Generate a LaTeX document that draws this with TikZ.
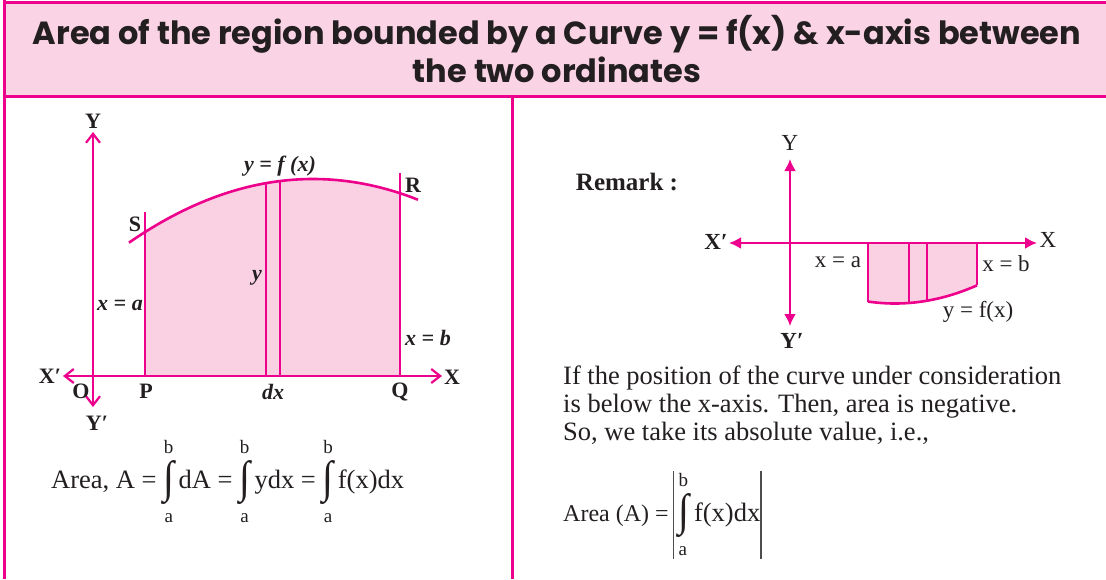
\documentclass[tikz,border=0pt]{standalone}
\usepackage{fontspec}
\setmainfont{Liberation Serif}
\newfontfamily\headfont{Poppins}
\usepackage{graphicx}
\usetikzlibrary{
  arrows.meta,
  positioning
}
\definecolor{rosered}{RGB}{236,0,140}
\definecolor{rosefill}{RGB}{249,209,227}
\definecolor{headfill}{RGB}{250,211,228}
\definecolor{inkblack}{RGB}{35,31,32}
\tikzset{
  frame/.style={draw=rosered,line width=3pt},
  axisL/.style={{Straight Barb[length=9pt,width=14pt]}-{Straight Barb[length=9pt,width=14pt]},
    draw=rosered,line width=2.2pt},
  axisR/.style={{Latex[length=12pt,width=12pt]}-{Latex[length=12pt,width=12pt]},
    draw=rosered,line width=2.2pt},
  curve/.style={draw=rosered,line width=2.6pt},
  ordinate/.style={draw=rosered,line width=1.8pt},
  lbl/.style={font=\fontsize{22}{22}\selectfont\bfseries,inner sep=0pt,text=inkblack},
  lblit/.style={font=\fontsize{22}{22}\selectfont\bfseries\itshape,inner sep=0pt,text=inkblack},
  rlbl/.style={font=\fontsize{23}{23}\selectfont,inner sep=0pt,text=inkblack},
  rlblbf/.style={font=\fontsize{23}{23}\selectfont\bfseries,inner sep=0pt,text=inkblack},
  headtext/.style={font=\headfont\bfseries\fontsize{32}{38}\selectfont,align=center,
    text=inkblack,inner sep=0pt},
  bodytext/.style={font=\fontsize{26.5}{28}\selectfont,align=left,text=inkblack,inner sep=0pt},
  formula/.style={font=\fontsize{26.5}{30}\selectfont,text=inkblack,inner sep=0pt}
}
\newcommand{\intab}[3][c]{\begin{tabular}{@{}#1@{}}%
  {\fontsize{19}{19}\selectfont #3}\\[8pt]%
  \raisebox{-1pt}[18pt][6pt]{\scalebox{1}[1.12]{\fontsize{40}{40}\selectfont ∫}}\\[1pt]%
  {\fontsize{19}{19}\selectfont #2}\end{tabular}}
\newcommand{\absbar}{\textcolor{inkblack!80}{\rule[-38pt]{1.2pt}{88pt}}}

\begin{document}
\begin{tikzpicture}[x=1pt,y=-1pt]
  \useasboundingbox (0,0) rectangle (1106,579);
  % header
  \fill[headfill] (4,2) rectangle (1106,96);
  \node[headtext] (title) at (557,49)
    {Area of the region bounded by a Curve y = f(x) \& x-axis between\\the two ordinates};
  \draw[frame] (4,2) -- (1106,2);
  \draw[frame] (4,0) -- (4,579);
  \draw[frame] (4,96) -- (1106,96);
  \draw[frame] (512,96) -- (512,579);

  % left: curve above the x-axis
  \fill[rosefill] plot[domain=145:400,samples=60] (\x,{179+18.8*((\x-313)/100)^2})
    -- (400,376) -- (145,376) -- cycle;
  \draw[curve] plot[domain=129:418,samples=80] (\x,{179+18.8*((\x-313)/100)^2});
  \draw[ordinate] (145,376) -- (145,212);
  \draw[ordinate] (400,376) -- (400,173);
  \draw[ordinate] (266,376) -- (266,183.2);
  \draw[ordinate] (280,376) -- (280,181.1);
  \draw[axisL] (63,376) -- (442,376);
  \draw[axisL] (93,407) -- (93,132);
  \node[lbl] (Yl) at (93,121) {Y};
  \node[lbl] (Ypl) at (97,423) {Y′};
  \node[lbl] (Xpl) at (50,376) {X′};
  \node[lbl] (Xl) at (452,377) {X};
  \node[lbl] (Ol) at (81,391) {O};
  \node[lbl] (Pl) at (146,391) {P};
  \node[lblit] (dxl) at (273,392) {dx};
  \node[lbl] (Ql) at (400,392) {Q};
  \node[lbl] (Rl) at (413,185) {R};
  \node[lbl] (Sl) at (135,224) {S};
  \node[lblit] (yl) at (257,278) {y};
  \node[lblit] (xal) at (120,305) {x = a};
  \node[lblit] (xbl) at (428,338) {x = b};
  \node[lblit] (fxl) at (280,166) {y = f (x)};
  \node[formula,anchor=west] (areaL) at (51,482)
    {Area, A = \intab{a}{b}\,dA = \intab{a}{b}\,ydx = \intab{a}{b}\,f(x)dx};

  % right: curve below the x-axis
  \node[rlblbf,font=\fontsize{25}{25}\selectfont\bfseries] (remark) at (627,182) {Remark :};
  \fill[rosefill] (868,243) -- plot[domain=868:977,samples=40] (\x,{303.5-27*((\x-895)/100)^2})
    -- (977,243) -- cycle;
  \draw[curve] plot[domain=868:977,samples=40] (\x,{303.5-27*((\x-895)/100)^2});
  \draw[ordinate] (868,243) -- (868,301.5);
  \draw[ordinate] (977,243) -- (977,285.3);
  \draw[ordinate] (909,243) -- (909,303);
  \draw[ordinate] (927,243) -- (927,300.7);
  \draw[axisR] (729,243) -- (1037,243);
  \draw[axisR] (790,326) -- (790,159);
  \node[rlbl] (Yr) at (790,143) {Y};
  \node[rlblbf] (Ypr) at (792,341) {Y′};
  \node[rlblbf] (Xpr) at (716,242) {X′};
  \node[rlbl] (Xr) at (1048,240) {X};
  \node[rlbl] (xar) at (838,262) {x = a};
  \node[rlbl] (xbr) at (1006,264) {x = b};
  \node[rlbl] (fxr) at (978,312) {y = f(x)};
  \node[bodytext,anchor=north west] (remtext) at (563,366)
    {If the position of the curve under consideration\\
     is below the x-axis. Then, area is negative.\\
     So, we take its absolute value, i.e.,};
  \node[formula,anchor=base west] (areaR) at (563,521)
    {{\fontsize{24}{30}\selectfont Area (A) =}\,\absbar\,\intab[l]{a}{b}\,f(x)dx\absbar};
\end{tikzpicture}
\end{document}
